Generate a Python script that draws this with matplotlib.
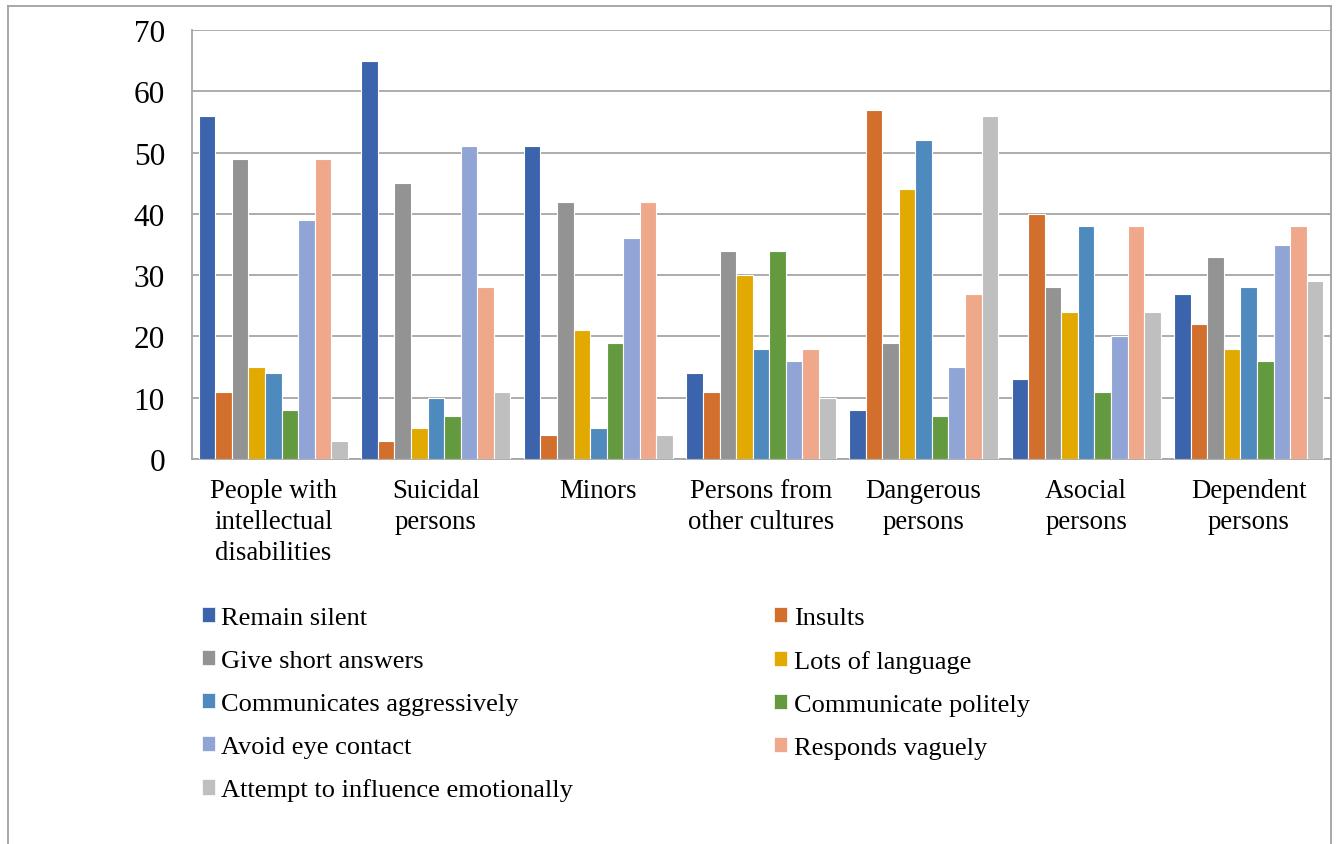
import numpy as np
import matplotlib.pyplot as plt
from matplotlib.lines import Line2D
from matplotlib.patches import Patch

plt.rcParams['font.family'] = ['Liberation Serif', 'DejaVu Serif']

categories = ['People with\nintellectual\ndisabilities', 'Suicidal\npersons', 'Minors',
              'Persons from\nother cultures', 'Dangerous\npersons', 'Asocial\npersons',
              'Dependent\npersons']
series = ['Remain silent', 'Insults', 'Give short answers', 'Lots of language',
          'Communicates aggressively', 'Communicate politely', 'Avoid eye contact',
          'Responds vaguely', 'Attempt to influence emotionally']
remain_silent = [56, 65, 51, 14, 8, 13, 27]
insults = [11, 3, 4, 11, 57, 40, 22]
short_answers = [49, 45, 42, 34, 19, 28, 33]
lots_language = [15, 5, 21, 30, 44, 24, 18]
aggressive = [14, 10, 5, 18, 52, 38, 28]
politely = [8, 7, 19, 34, 7, 11, 16]
avoid_eye = [39, 51, 36, 16, 15, 20, 35]
vaguely = [49, 28, 42, 18, 27, 38, 38]
emotional = [3, 11, 4, 10, 56, 24, 29]
values = [remain_silent, insults, short_answers, lots_language, aggressive,
          politely, avoid_eye, vaguely, emotional]
colors = ['#3C64AC', '#D36F2D', '#939393', '#E2AA00', '#4F8ABE', '#649A3F',
          '#90A5D5', '#F0A88A', '#BFBFBF']

fig = plt.figure(figsize=(13.38, 8.45), dpi=100)
ax = fig.add_axes([0.1435, 0.4556, 0.8505, 0.5077])

x = np.arange(len(categories))
w = 0.917 / len(series)
for i, (vals, c) in enumerate(zip(values, colors)):
    ax.bar(x - 0.917 / 2 + w * (i + 0.5), vals, w, color=c, edgecolor='white',
           linewidth=0.8, label=series[i], zorder=3)

ax.set_xlim(-0.5, 6.5)
ax.set_ylim(0, 70)
ax.set_yticks(range(0, 71, 10))
ax.set_xticks(x)
ax.set_xticklabels(categories, fontsize=19.3, linespacing=1.3)
ax.tick_params(axis='y', length=0, pad=19.5, labelsize=22.5)
ax.tick_params(axis='x', length=0, pad=14)
ax.grid(axis='y', color='#A6A6A6', linewidth=1.3, zorder=0)
for s in ['top', 'right']:
    ax.spines[s].set_visible(False)
for s in ['left', 'bottom']:
    ax.spines[s].set_color('#A6A6A6')
    ax.spines[s].set_linewidth(1.3)

# legend, filled row-wise like the original
order = [0, 2, 4, 6, 8, 1, 3, 5, 7]
handles = [Patch(facecolor=colors[k], edgecolor='white', linewidth=0.5) for k in order]
labels = [series[k] for k in order]
fig.legend(handles, labels, ncol=2, loc='upper left', bbox_to_anchor=(0.133, 0.3086),
           frameon=False, fontsize=19, handlelength=0.5, handleheight=0.5,
           handletextpad=0.25, labelspacing=0.79, columnspacing=7.6)

# outer frame
fc = '#A0A0A0'
fig.add_artist(Line2D([0.006, 0.006], [0, 0.9917], color=fc, lw=1.3))
fig.add_artist(Line2D([0.006, 0.9945], [0.9917, 0.9917], color=fc, lw=1.3))
fig.add_artist(Line2D([0.9945, 0.9945], [0, 0.9917], color=fc, lw=1.3))

fig.savefig('out.png', dpi=100)
